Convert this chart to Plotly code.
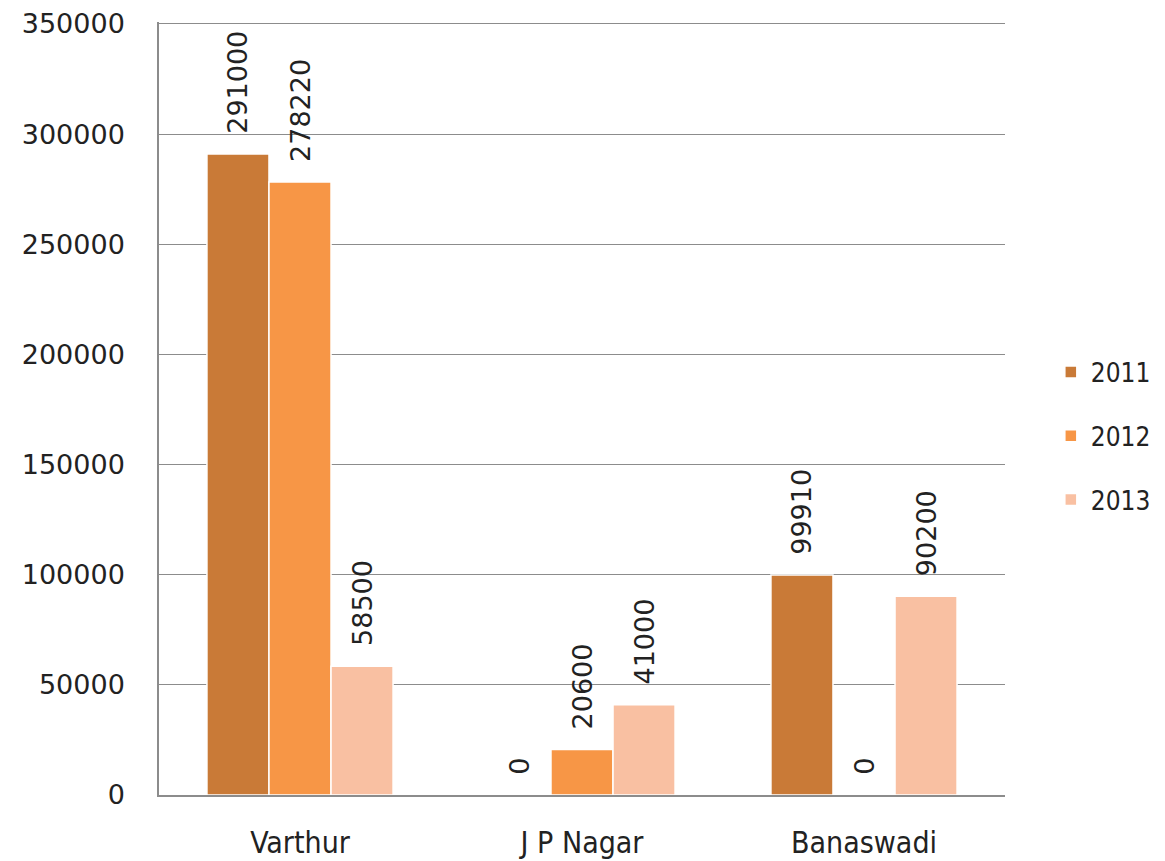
import plotly.graph_objects as go

categories = ["Varthur", "J P Nagar", "Banaswadi"]
years = ["2011", "2012", "2013"]
values_2011 = [291000, 0, 99910]
values_2012 = [278220, 20600, 0]
values_2013 = [58500, 41000, 90200]
colors = ["#C97A37", "#F79646", "#F9C0A2"]
y_ticks = [0, 50000, 100000, 150000, 200000, 250000, 300000, 350000]

series = [values_2011, values_2012, values_2013]

fig = go.Figure()
for name, vals, col in zip(years, series, colors):
    fig.add_trace(go.Bar(
        x=categories, y=vals, name=name, legendgroup=name,
        marker=dict(color=col, line=dict(color="white", width=1.5)),
        text=["\u00a0\u00a0" + str(v) for v in vals],
        textposition="outside", textangle=-90,
        textfont=dict(family="DejaVu Sans", size=27, color="#222"),
        cliponaxis=False, constraintext="none",
    ))

fig.update_layout(
    width=1165, height=861,
    margin=dict(l=159, r=160, t=22, b=66, autoexpand=False),
    paper_bgcolor="white", plot_bgcolor="white",
    barmode="group", bargap=0.34, bargroupgap=0.0,
    legend=dict(xref="container", yref="container", x=0.902, y=0.4936,
                xanchor="left", yanchor="middle",
                font=dict(family="DejaVu Sans Condensed, Liberation Sans", size=26, color="#222"),
                traceorder="grouped", tracegroupgap=27),
    showlegend=True,
)
fig.update_yaxes(
    range=[0, 350900], tickvals=y_ticks, ticktext=[str(v) for v in y_ticks],
    showgrid=True, gridcolor="#8c8c8c", gridwidth=1,
    showline=True, linecolor="#8c8c8c", linewidth=1.5,
    ticks="outside", ticklen=27, tickcolor="rgba(0,0,0,0)",
    tickfont=dict(family="DejaVu Sans", size=27, color="#222"),
    zeroline=False, automargin=False,
)
fig.update_xaxes(
    showline=True, linecolor="#8c8c8c", linewidth=1.5,
    ticks="outside", ticklen=20, tickcolor="rgba(0,0,0,0)",
    tickfont=dict(family="DejaVu Sans Condensed, Liberation Sans", size=30, color="#222"),
    automargin=False,
)

fig.write_html("out.html")
